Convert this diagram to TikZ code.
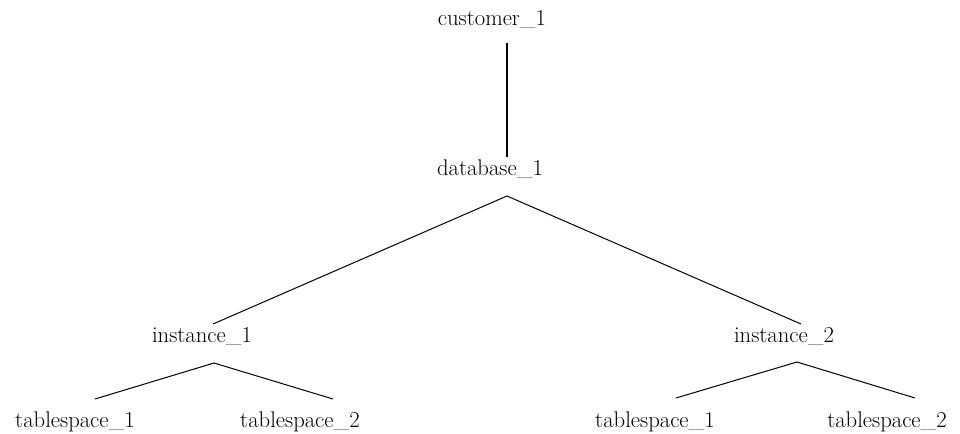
\documentclass[tikz,border=0pt]{standalone}
\usepackage{tikz}
\usetikzlibrary{calc}

\begin{document}
\begin{tikzpicture}[x=0.75pt,y=-0.75pt,
    lbl/.style={anchor=base,inner sep=0pt,font=\fontsize{17}{20}\selectfont},
    edge/.style={line width=0.75pt}]
  \useasboundingbox (0,0) rectangle (960,433);
  % tree levels
  \node[lbl] (cust) at (492,25) {customer\_1};
  \node[lbl] (db) at (490,175) {database\_1};
  \node[lbl] (inst1) at (202,342) {instance\_1};
  \node[lbl] (inst2) at (784,342) {instance\_2};
  \node[lbl] (ts11) at (75,427) {tablespace\_1};
  \node[lbl] (ts12) at (300,427) {tablespace\_2};
  \node[lbl] (ts21) at (655,427) {tablespace\_1};
  \node[lbl] (ts22) at (887,427) {tablespace\_2};
  % links
  \draw[line width=1.5pt] ($(cust.base)+(15,18)$) -- ($(db.base)+(17,-18)$);
  \draw[edge] ($(inst1.base)+(11,-18)$) -- ($(db.base)+(17,21)$) -- ($(inst2.base)+(17,-18)$);
  \draw[edge] ($(ts11.base)+(20,-28)$) -- ($(inst1.base)+(12,21)$) -- ($(ts12.base)+(33,-28)$);
  \draw[edge] ($(ts21.base)+(21,-29)$) -- ($(inst2.base)+(13,20)$) -- ($(ts22.base)+(28,-29)$);
\end{tikzpicture}
\end{document}
